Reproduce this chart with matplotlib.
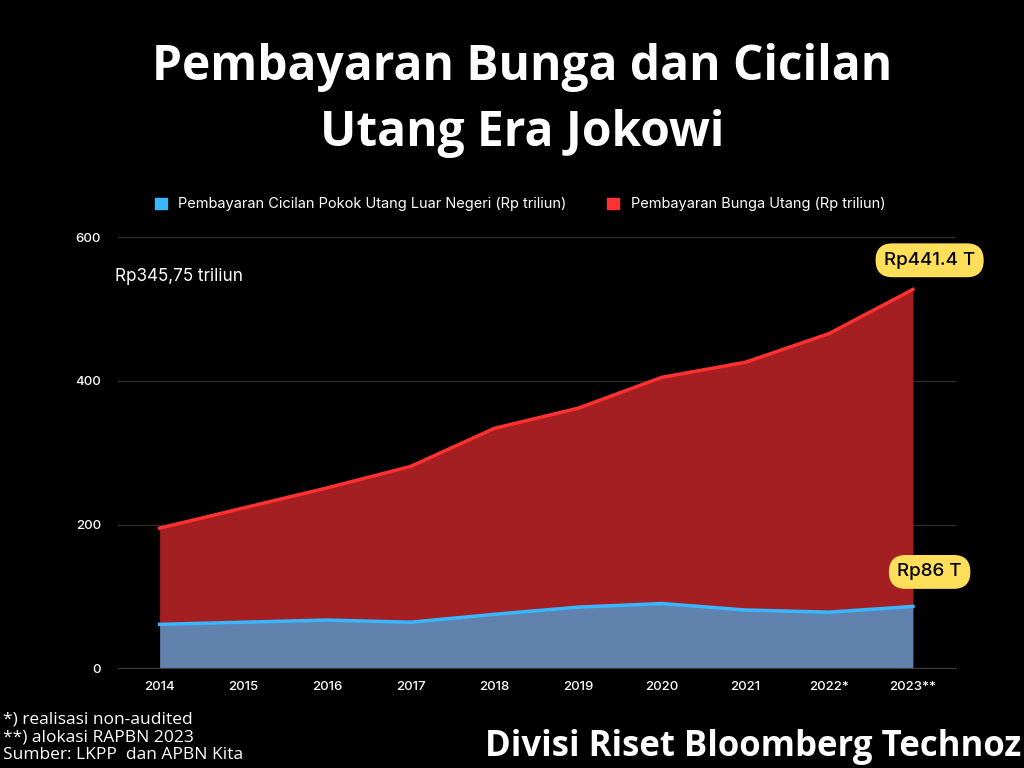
import matplotlib
matplotlib.use("Agg")
import matplotlib.pyplot as plt
from matplotlib.patches import Patch

# Data (Rp triliun)
years = ["2014", "2015", "2016", "2017", "2018", "2019", "2020", "2021", "2022*", "2023**"]
pokok = [61, 64, 67, 64, 75, 85, 90, 81, 78, 86]
bunga = [134, 159, 184, 217, 259, 277, 315, 345, 388, 441.4]

BG = "black"
RED_FILL = "#A31F22"
RED_LINE = "#FF3030"
BLUE_FILL = "#6282AE"
BLUE_LINE = "#38B6FF"
YELLOW = "#FFDE59"

fig = plt.figure(figsize=(10.24, 7.68), dpi=100, facecolor=BG)
ax = fig.add_axes([0.115, 0.130, 0.819, 0.561], facecolor=BG)

x = list(range(len(years)))
total = [p + b for p, b in zip(pokok, bunga)]

ax.fill_between(x, 0, pokok, color=BLUE_FILL, linewidth=0, zorder=2)
ax.fill_between(x, pokok, total, color=RED_FILL, linewidth=0, zorder=2)
ax.plot(x, pokok, color=BLUE_LINE, lw=2.5, zorder=3)
ax.plot(x, total, color=RED_LINE, lw=2.5, zorder=3)

ax.set_xlim(-0.5, 9.52)
ax.set_ylim(0, 600)
ax.set_yticks([0, 200, 400, 600])
ax.set_xticks(x)
ax.set_xticklabels(years)
ax.grid(axis="y", color="#2b2b2b", lw=1, zorder=1)
ax.set_axisbelow(True)
for s in ["top", "right", "left"]:
    ax.spines[s].set_visible(False)
ax.spines["bottom"].set_color("#3a3a3a")
ax.spines["bottom"].set_zorder(4)
ax.tick_params(axis="both", length=0, colors="white", labelsize=9.5)
ax.tick_params(axis="x", pad=9)
ax.tick_params(axis="y", pad=12)
for lab in ax.get_xticklabels() + ax.get_yticklabels():
    lab.set_fontfamily("Inter")
    lab.set_fontweight("medium")

# Title
fig.text(0.51, 1 - 80 / 768, "Pembayaran Bunga dan Cicilan", ha="center", va="baseline",
         color="white", fontsize=34.5, fontweight="bold", family="Open Sans")
fig.text(0.51, 1 - 146 / 768, "Utang Era Jokowi", ha="center", va="baseline",
         color="white", fontsize=34.5, fontweight="bold", family="Open Sans")

# Legend
handles = [Patch(color=BLUE_LINE, label="Pembayaran Cicilan Pokok Utang Luar Negeri (Rp triliun)"),
           Patch(color=RED_LINE, label="Pembayaran Bunga Utang (Rp triliun)")]
fig.legend(handles=handles, loc="center", bbox_to_anchor=(0.508, 0.734), ncol=2,
           frameon=False, labelcolor="white", handlelength=0.8, handleheight=0.8,
           columnspacing=2.8, handletextpad=0.8,
           prop={"family": "Inter", "size": 10.5})

# Annotations
ax.text(-0.53, 545, "Rp345,75 triliun", color="white", fontsize=12.3,
        family="Inter", ha="left", va="center")
ax.text(9.2, 568, f"Rp{bunga[-1]} T", color="black", fontsize=13.5,
        family="Inter", fontweight="medium", ha="center", va="center",
        bbox=dict(boxstyle="round,pad=0.45,rounding_size=0.9", fc=YELLOW, ec="none"),
        zorder=6)
ax.text(9.2, 134, f"Rp{pokok[-1]} T", color="black", fontsize=13.5,
        family="Inter", fontweight="medium", ha="center", va="center",
        bbox=dict(boxstyle="round,pad=0.45,rounding_size=0.9", fc=YELLOW, ec="none"),
        zorder=6)

# Footer
notes = ["*) realisasi non-audited", "**) alokasi RAPBN 2023", "Sumber: LKPP  dan APBN Kita"]
for i, line in enumerate(notes):
    fig.text(0.003, 1 - (719 + 18 * i) / 768, line, ha="left", va="center",
             color="white", fontsize=12.5, family="Open Sans")
fig.text(0.997, 1 - 747 / 768, "Divisi Riset Bloomberg Technoz", ha="right", va="center",
         color="white", fontsize=25, fontweight="bold", family="Open Sans")

fig.savefig("out.png", dpi=100, facecolor=BG)
